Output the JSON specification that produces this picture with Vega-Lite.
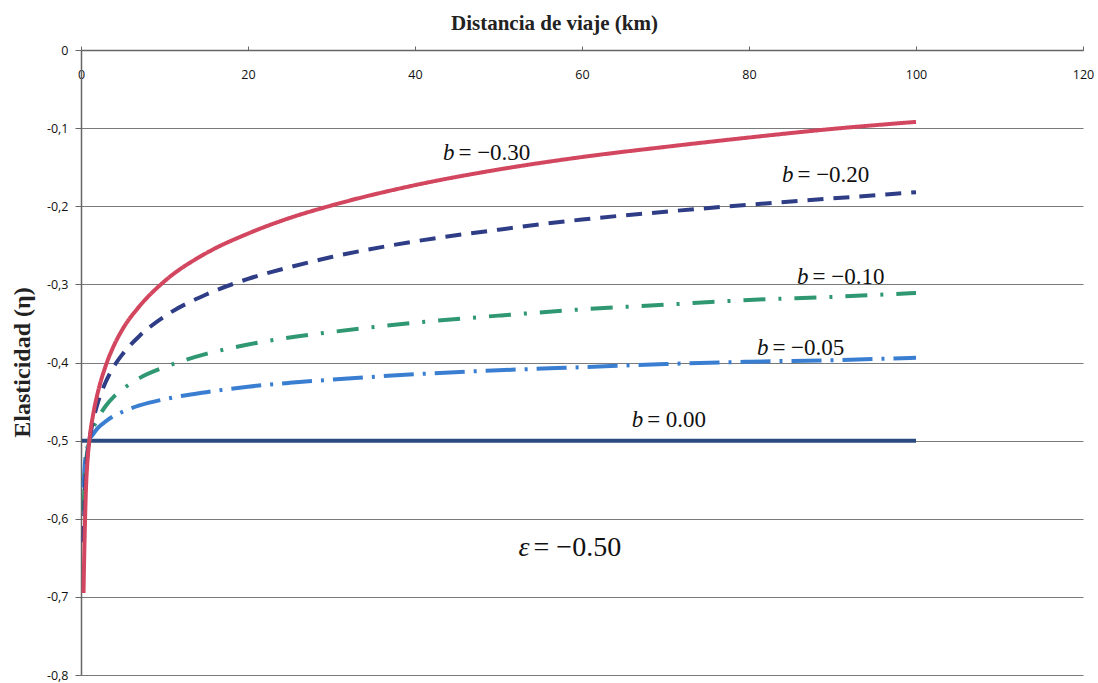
{
  "$schema": "https://vega.github.io/schema/vega-lite/v6.json",
  "autosize": {"type": "none"},
  "padding": {"left": 81, "top": 50, "right": 15, "bottom": 8},
  "width": 1002,
  "height": 625,
  "background": "white",
  "config": {
    "view": {"stroke": null},
    "locale": {"number": {"decimal": ",", "thousands": ".", "grouping": [3], "currency": ["", ""], "minus": "-"}}
  },
  "datasets": {
    "curves": [
      {"s": "b0", "d": 0.1, "e": -0.5},
      {"s": "b0", "d": 100, "e": -0.5},
      {"s": "b05", "d": 0.3, "e": -0.56},
      {"s": "b05", "d": 0.5, "e": -0.525},
      {"s": "b05", "d": 0.75, "e": -0.51},
      {"s": "b05", "d": 1, "e": -0.5},
      {"s": "b05", "d": 1.5, "e": -0.491},
      {"s": "b05", "d": 2, "e": -0.484},
      {"s": "b05", "d": 3, "e": -0.475},
      {"s": "b05", "d": 4, "e": -0.468},
      {"s": "b05", "d": 5, "e": -0.463},
      {"s": "b05", "d": 7, "e": -0.455},
      {"s": "b05", "d": 10, "e": -0.447},
      {"s": "b05", "d": 15, "e": -0.438},
      {"s": "b05", "d": 20, "e": -0.431},
      {"s": "b05", "d": 25, "e": -0.426},
      {"s": "b05", "d": 30, "e": -0.422},
      {"s": "b05", "d": 40, "e": -0.415},
      {"s": "b05", "d": 50, "e": -0.41},
      {"s": "b05", "d": 60, "e": -0.406},
      {"s": "b05", "d": 70, "e": -0.402},
      {"s": "b05", "d": 80, "e": -0.399},
      {"s": "b05", "d": 90, "e": -0.397},
      {"s": "b05", "d": 100, "e": -0.394},
      {"s": "b10", "d": 0.3, "e": -0.59},
      {"s": "b10", "d": 0.5, "e": -0.54},
      {"s": "b10", "d": 0.75, "e": -0.515},
      {"s": "b10", "d": 1, "e": -0.5},
      {"s": "b10", "d": 1.5, "e": -0.483},
      {"s": "b10", "d": 2, "e": -0.472},
      {"s": "b10", "d": 3, "e": -0.455},
      {"s": "b10", "d": 4, "e": -0.443},
      {"s": "b10", "d": 5, "e": -0.434},
      {"s": "b10", "d": 7, "e": -0.42},
      {"s": "b10", "d": 10, "e": -0.406},
      {"s": "b10", "d": 15, "e": -0.389},
      {"s": "b10", "d": 20, "e": -0.377},
      {"s": "b10", "d": 25, "e": -0.368},
      {"s": "b10", "d": 30, "e": -0.361},
      {"s": "b10", "d": 40, "e": -0.349},
      {"s": "b10", "d": 50, "e": -0.34},
      {"s": "b10", "d": 60, "e": -0.332},
      {"s": "b10", "d": 70, "e": -0.326},
      {"s": "b10", "d": 80, "e": -0.32},
      {"s": "b10", "d": 90, "e": -0.316},
      {"s": "b10", "d": 100, "e": -0.311},
      {"s": "b20", "d": 0.3, "e": -0.63},
      {"s": "b20", "d": 0.5, "e": -0.56},
      {"s": "b20", "d": 0.75, "e": -0.52},
      {"s": "b20", "d": 1, "e": -0.5},
      {"s": "b20", "d": 1.5, "e": -0.472},
      {"s": "b20", "d": 2, "e": -0.452},
      {"s": "b20", "d": 3, "e": -0.424},
      {"s": "b20", "d": 4, "e": -0.404},
      {"s": "b20", "d": 5, "e": -0.389},
      {"s": "b20", "d": 7, "e": -0.366},
      {"s": "b20", "d": 10, "e": -0.341},
      {"s": "b20", "d": 15, "e": -0.313},
      {"s": "b20", "d": 20, "e": -0.293},
      {"s": "b20", "d": 25, "e": -0.278},
      {"s": "b20", "d": 30, "e": -0.265},
      {"s": "b20", "d": 40, "e": -0.245},
      {"s": "b20", "d": 50, "e": -0.23},
      {"s": "b20", "d": 60, "e": -0.217},
      {"s": "b20", "d": 70, "e": -0.207},
      {"s": "b20", "d": 80, "e": -0.198},
      {"s": "b20", "d": 90, "e": -0.19},
      {"s": "b20", "d": 100, "e": -0.182},
      {"s": "b30", "d": 0.3, "e": -0.695},
      {"s": "b30", "d": 0.4, "e": -0.64},
      {"s": "b30", "d": 0.5, "e": -0.595},
      {"s": "b30", "d": 0.6, "e": -0.56},
      {"s": "b30", "d": 0.75, "e": -0.53},
      {"s": "b30", "d": 1, "e": -0.5},
      {"s": "b30", "d": 1.5, "e": -0.464},
      {"s": "b30", "d": 2, "e": -0.439},
      {"s": "b30", "d": 3, "e": -0.403},
      {"s": "b30", "d": 4, "e": -0.377},
      {"s": "b30", "d": 5, "e": -0.357},
      {"s": "b30", "d": 7, "e": -0.328},
      {"s": "b30", "d": 10, "e": -0.296},
      {"s": "b30", "d": 15, "e": -0.26},
      {"s": "b30", "d": 20, "e": -0.235},
      {"s": "b30", "d": 25, "e": -0.215},
      {"s": "b30", "d": 30, "e": -0.199},
      {"s": "b30", "d": 40, "e": -0.173},
      {"s": "b30", "d": 50, "e": -0.153},
      {"s": "b30", "d": 60, "e": -0.137},
      {"s": "b30", "d": 70, "e": -0.124},
      {"s": "b30", "d": 80, "e": -0.112},
      {"s": "b30", "d": 90, "e": -0.101},
      {"s": "b30", "d": 100, "e": -0.092}
    ],
    "labels": [
      {"t": "= −0.30", "d": 45.2, "e": -0.132},
      {"t": "= −0.20", "d": 85.8, "e": -0.16},
      {"t": "= −0.10", "d": 87.6, "e": -0.29},
      {"t": "= −0.05", "d": 82.8, "e": -0.382},
      {"t": "= 0.00", "d": 67.8, "e": -0.474}
    ],
    "eps": [
      {"t": "ε", "r": "= −0.50", "d": 54.2, "e": -0.637}
    ]
  },
  "layer": [
    {
      "data": {"name": "curves"},
      "mark": {"type": "line", "interpolate": "monotone", "strokeWidth": 4},
      "encoding": {
        "x": {
          "field": "d", "type": "quantitative",
          "scale": {"domain": [0, 120], "nice": false, "zero": false},
          "axis": {
            "orient": "top",
            "values": [0, 20, 40, 60, 80, 100, 120],
            "grid": false,
            "domainColor": "#666666", "domainWidth": 1.5,
            "tickColor": "#666666", "tickSize": 4,
            "labelFont": "Open Sans", "labelFontSize": 12.5, "labelColor": "#111111",
            "labelBaseline": "middle", "labelPadding": -28,
            "labelFlush": false, "labelOverlap": false,
            "title": "Distancia de viaje (km)",
            "titleFont": "Liberation Serif", "titleFontSize": 21, "titleFontWeight": "bold", "titleColor": "#222222",
            "titleX": 473, "titleY": -27, "titleBaseline": "middle", "titleAnchor": null, "titleAlign": "center"
          }
        },
        "y": {
          "field": "e", "type": "quantitative",
          "scale": {"domain": [-0.8, 0], "nice": false, "zero": false},
          "axis": {
            "values": [0, -0.1, -0.2, -0.3, -0.4, -0.5, -0.6, -0.7, -0.8],
            "format": ".1~f",
            "grid": true, "gridColor": "#7a7a7a", "gridWidth": 1.2,
            "domainColor": "#666666", "domainWidth": 1.5,
            "tickColor": "#666666", "tickSize": 6,
            "labelFont": "Open Sans", "labelFontSize": 12.5, "labelColor": "#111111",
            "labelPadding": 7,
            "title": "Elasticidad  (η)",
            "titleFont": "Liberation Serif", "titleFontSize": 24, "titleFontWeight": "bold", "titleColor": "#222222",
            "titleX": -59, "titleY": 312, "titleBaseline": "middle", "titleAngle": -90, "titleAlign": "center"
          }
        },
        "color": {
          "field": "s", "type": "nominal", "legend": null,
          "scale": {"domain": ["b0", "b05", "b10", "b20", "b30"], "range": ["#2B4A80", "#3A7ED2", "#2F9872", "#2E3D86", "#D2475F"]}
        },
        "strokeDash": {
          "field": "s", "type": "nominal", "legend": null,
          "scale": {"domain": ["b0", "b05", "b10", "b20", "b30"], "range": [[1, 0], [30, 9, 3, 9], [22, 13, 3, 13], [16, 10], [1, 0]]}
        }
      }
    },
    {
      "data": {"name": "labels"},
      "mark": {"type": "text", "font": "Liberation Serif", "fontSize": 23, "fontStyle": "italic", "align": "right", "baseline": "middle", "dx": -4, "color": "#111111"},
      "encoding": {
        "x": {"field": "d", "type": "quantitative"},
        "y": {"field": "e", "type": "quantitative"},
        "text": {"value": "b"}
      }
    },
    {
      "data": {"name": "labels"},
      "mark": {"type": "text", "font": "Liberation Serif", "fontSize": 23, "align": "left", "baseline": "middle", "dx": 0, "color": "#111111"},
      "encoding": {
        "x": {"field": "d", "type": "quantitative"},
        "y": {"field": "e", "type": "quantitative"},
        "text": {"field": "t"}
      }
    },
    {
      "data": {"name": "eps"},
      "mark": {"type": "text", "font": "Liberation Serif", "fontSize": 28, "fontStyle": "italic", "align": "right", "baseline": "middle", "dx": -4, "color": "#111111"},
      "encoding": {
        "x": {"field": "d", "type": "quantitative"},
        "y": {"field": "e", "type": "quantitative"},
        "text": {"field": "t"}
      }
    },
    {
      "data": {"name": "eps"},
      "mark": {"type": "text", "font": "Liberation Serif", "fontSize": 28, "align": "left", "baseline": "middle", "dx": 0, "color": "#111111"},
      "encoding": {
        "x": {"field": "d", "type": "quantitative"},
        "y": {"field": "e", "type": "quantitative"},
        "text": {"field": "r"}
      }
    }
  ]
}
